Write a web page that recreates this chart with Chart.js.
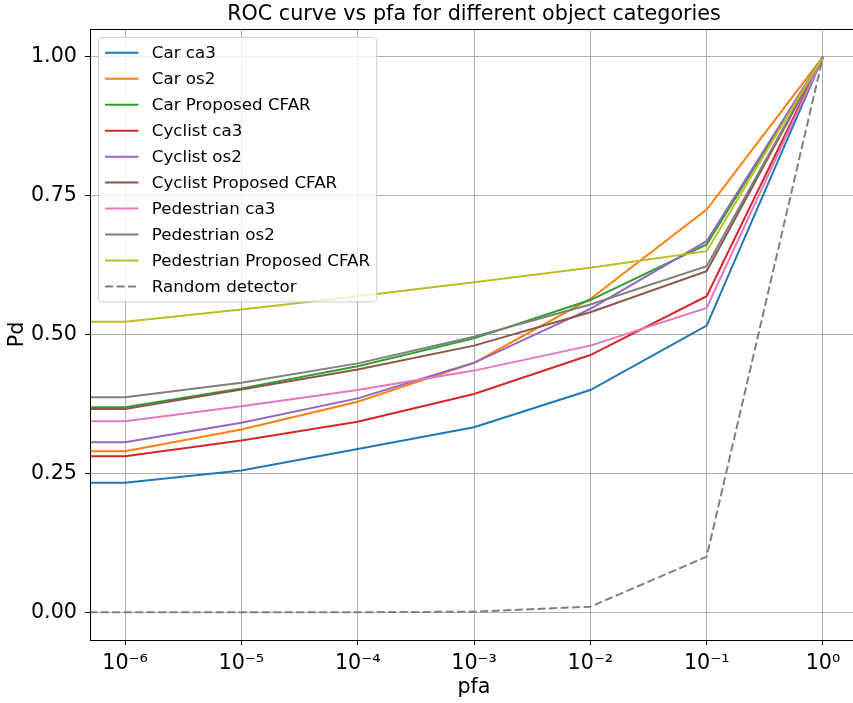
<!DOCTYPE html>
<html>
<head>
<meta charset="utf-8">
<title>ROC curve vs pfa</title>
<script src="https://cdn.jsdelivr.net/npm/chart.js@4.4.1/dist/chart.umd.min.js"></script>
<style>
    html, body { margin: 0; padding: 0; background: #fff; overflow: hidden; }
</style>
</head>
<body>
<canvas id="myChart" width="858" height="703"></canvas>
<script>
// pfa points (first one sits off the left edge, like the clipped zero point)
var pfaValues = [1e-7, 1e-6, 1e-5, 1e-4, 1e-3, 1e-2, 1e-1, 1];

var carCa3 = [0.233, 0.233, 0.255, 0.294, 0.333, 0.400, 0.516, 1.0];
var carOs2 = [0.290, 0.290, 0.329, 0.379, 0.449, 0.564, 0.725, 1.0];
var carProposed = [0.369, 0.369, 0.403, 0.443, 0.493, 0.562, 0.662, 1.0];
var cyclistCa3 = [0.281, 0.281, 0.309, 0.343, 0.393, 0.463, 0.569, 1.0];
var cyclistOs2 = [0.306, 0.306, 0.341, 0.385, 0.449, 0.546, 0.668, 1.0];
var cyclistProposed = [0.366, 0.366, 0.401, 0.437, 0.480, 0.540, 0.614, 1.0];
var pedestrianCa3 = [0.344, 0.344, 0.371, 0.400, 0.435, 0.480, 0.548, 1.0];
var pedestrianOs2 = [0.387, 0.387, 0.413, 0.448, 0.496, 0.554, 0.623, 1.0];
var pedestrianProposed = [0.523, 0.523, 0.545, 0.569, 0.594, 0.620, 0.650, 1.0];
var randomDetector = [0, 0, 0, 0, 0.001, 0.01, 0.1, 1.0];

var seriesNames = ['Car ca3', 'Car os2', 'Car Proposed CFAR', 'Cyclist ca3', 'Cyclist os2',
    'Cyclist Proposed CFAR', 'Pedestrian ca3', 'Pedestrian os2', 'Pedestrian Proposed CFAR', 'Random detector'];
var seriesValues = [carCa3, carOs2, carProposed, cyclistCa3, cyclistOs2,
    cyclistProposed, pedestrianCa3, pedestrianOs2, pedestrianProposed, randomDetector];
var seriesColors = ['#1f77b4', '#ff7f0e', '#2ca02c', '#d62728', '#9467bd',
    '#8c564b', '#e377c2', '#7f7f7f', '#bcbd22', '#808080'];

var xTicks = [1e-6, 1e-5, 1e-4, 1e-3, 1e-2, 1e-1, 1];
var xTickLabels = ['10\u207B\u2076', '10\u207B\u2075', '10\u207B\u2074', '10\u207B\u00B3', '10\u207B\u00B2', '10\u207B\u00B9', '10\u2070'];
var yTicks = [0, 0.25, 0.5, 0.75, 1.0];
var yTickLabels = ['0.00', '0.25', '0.50', '0.75', '1.00'];

var titleText = 'ROC curve vs pfa for different object categories';
var fontFamily = '"DejaVu Sans", sans-serif';

var datasets = [];
for (var i = 0; i < seriesNames.length; i++) {
    var pts = [];
    for (var j = 0; j < pfaValues.length; j++) {
        pts.push({ x: pfaValues[j], y: seriesValues[i][j] });
    }
    datasets.push({
        label: seriesNames[i],
        data: pts,
        borderColor: seriesColors[i],
        backgroundColor: seriesColors[i],
        borderWidth: 2,
        borderDash: i == seriesNames.length - 1 ? [8, 3.5] : [],
        pointRadius: 0,
        tension: 0,
        fill: false,
        clip: 0,
        order: seriesNames.length - i // later series drawn on top
    });
}

// title, box frame and the in-plot legend
const extrasPlugin = {
    id: 'extras',
    afterDraw(chart) {
        const ctx = chart.ctx;
        const a = chart.chartArea;
        ctx.save();

        ctx.font = '20.7px ' + fontFamily;
        ctx.fillStyle = '#000';
        ctx.textAlign = 'center';
        ctx.textBaseline = 'alphabetic';
        ctx.fillText(titleText, (a.left + a.right) / 2, 20);

        ctx.strokeStyle = '#000';
        ctx.lineWidth = 1;
        ctx.strokeRect(a.left + 0.5, a.top + 0.5, a.right - a.left, a.bottom - a.top);

        // legend
        var fs = 16.7;
        var pad = 0.4 * fs, rowH = 17.6, gap = 0.5 * fs;
        var handleLen = 2 * fs, textPad = 0.8 * fs;
        var ds = chart.data.datasets;
        ctx.font = fs + 'px ' + fontFamily;
        var maxW = 0;
        for (var k = 0; k < ds.length; k++) {
            maxW = Math.max(maxW, ctx.measureText(ds[k].label).width);
        }
        var bx = a.left + 0.5 * fs, by = a.top + 0.5 * fs;
        var bw = pad * 2 + handleLen + textPad + maxW;
        var bh = pad * 2 + ds.length * rowH + (ds.length - 1) * gap;
        var r = 4;
        ctx.beginPath();
        ctx.moveTo(bx + r, by);
        ctx.arcTo(bx + bw, by, bx + bw, by + bh, r);
        ctx.arcTo(bx + bw, by + bh, bx, by + bh, r);
        ctx.arcTo(bx, by + bh, bx, by, r);
        ctx.arcTo(bx, by, bx + bw, by, r);
        ctx.closePath();
        ctx.fillStyle = 'rgba(255,255,255,0.8)';
        ctx.fill();
        ctx.strokeStyle = '#cccccc';
        ctx.stroke();

        ctx.textAlign = 'left';
        ctx.textBaseline = 'middle';
        for (var k = 0; k < ds.length; k++) {
            var cy = by + pad + rowH / 2 + k * (rowH + gap);
            ctx.beginPath();
            ctx.setLineDash(ds[k].borderDash);
            ctx.strokeStyle = ds[k].borderColor;
            ctx.lineWidth = 2;
            ctx.moveTo(bx + pad, cy);
            ctx.lineTo(bx + pad + handleLen, cy);
            ctx.stroke();
            ctx.setLineDash([]);
            ctx.fillStyle = '#000';
            ctx.fillText(ds[k].label, bx + pad + handleLen + textPad, cy + 1);
        }
        ctx.restore();
    }
};

const config = {
    type: 'line',
    data: { datasets: datasets },
    options: {
        responsive: false,
        animation: false,
        layout: { padding: { top: 29, left: 0, right: 0, bottom: 0 } },
        plugins: {
            legend: { display: false },
            tooltip: { enabled: false }
        },
        scales: {
            x: {
                type: 'logarithmic',
                min: 5e-7,
                max: 2,
                bounds: 'data',
                afterBuildTicks: function (scale) {
                    scale.ticks = xTicks.map(function (v) { return { value: v }; });
                },
                afterFit: function (scale) { scale.height = 63; },
                ticks: {
                    autoSkip: false,
                    maxRotation: 0,
                    padding: 6,
                    color: '#000',
                    font: { family: fontFamily, size: 20.7 },
                    callback: function (value, index) { return xTickLabels[index]; }
                },
                grid: { color: '#b0b0b0', lineWidth: 1, tickColor: '#000', tickLength: 5 },
                border: { display: false },
                title: {
                    display: true,
                    text: 'pfa',
                    color: '#000',
                    font: { family: fontFamily, size: 20.7 },
                    padding: { top: 0, bottom: 3 }
                }
            },
            y: {
                type: 'linear',
                min: -0.05,
                max: 1.05,
                bounds: 'data',
                afterBuildTicks: function (scale) {
                    scale.ticks = yTicks.map(function (v) { return { value: v }; });
                },
                afterFit: function (scale) { scale.width = 90; },
                ticks: {
                    padding: 8,
                    color: '#000',
                    font: { family: fontFamily, size: 20.7 },
                    callback: function (value, index) { return yTickLabels[index]; }
                },
                grid: { color: '#b0b0b0', lineWidth: 1, tickColor: '#000', tickLength: 5 },
                border: { display: false },
                title: {
                    display: true,
                    text: 'Pd',
                    color: '#000',
                    font: { family: fontFamily, size: 20.7 },
                    padding: { top: 5, bottom: 0 }
                }
            }
        }
    },
    plugins: [extrasPlugin]
};

const myChart = new Chart(document.getElementById('myChart'), config);
</script>
</body>
</html>
